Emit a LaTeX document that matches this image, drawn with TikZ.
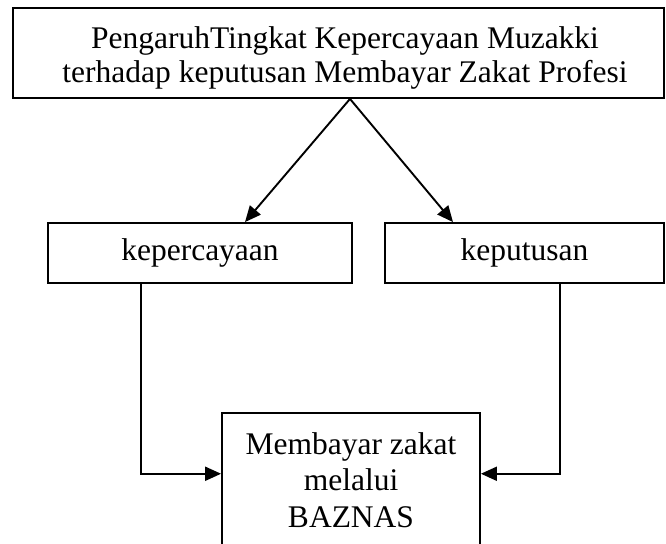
\documentclass[tikz,border=0pt]{standalone}
\usepackage{fontspec}
\setmainfont{Liberation Serif}
\usetikzlibrary{arrows.meta}
\begin{document}
\begin{tikzpicture}[x=1pt,y=-1pt,
  box/.style={draw,line width=1.8pt,inner sep=0pt,align=center,font=\fontsize{31.5}{36.5}\selectfont},
  txt/.style={inner sep=0pt,align=center,font=\fontsize{31.5}{34}\selectfont},
  arr/.style={line width=1.9pt,-{Triangle[length=16pt,width=14pt]}}]
\useasboundingbox (0,0) rectangle (666,543);

% the four boxes
\node[box,minimum width=651pt,minimum height=90pt] (top) at (338.5,53) {};
\node[txt,anchor=north] (judul) at (345,26.2) {PengaruhTingkat Kepercayaan Muzakki\\terhadap keputusan Membayar Zakat Profesi};
\node[box,minimum width=304pt,minimum height=60pt] (kpc) at (200,253) {kepercayaan};
\node[box,minimum width=279pt,minimum height=60pt] (kpt) at (524.5,253) {keputusan};
\node[box,minimum width=258pt,minimum height=133.5pt] (bayar) at (351,479.75) {Membayar zakat\\melalui\\BAZNAS};

% arrows from the top box
\coordinate (apex) at ([xshift=11.5pt]top.south);
\foreach \n/\dx in {kpc/45,kpt/-71.5}
\draw[arr] (apex) -- ([xshift=\dx pt]\n.north);

% elbows into the bottom box
\draw[arr] ([xshift=-59pt]kpc.south) |- ([yshift=6pt]bayar.west);
\draw[arr] ([xshift=35.5pt]kpt.south) |- ([yshift=6pt]bayar.east);

\end{tikzpicture}
\end{document}
